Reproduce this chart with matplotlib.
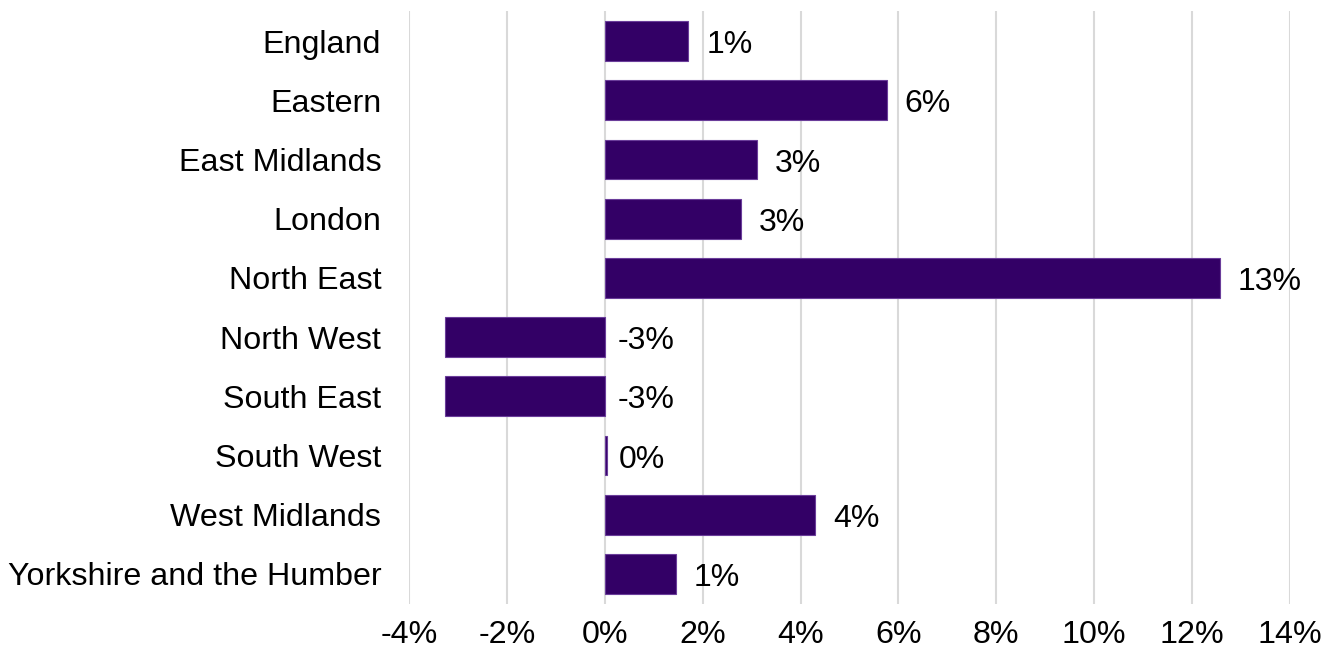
import matplotlib.pyplot as plt
from matplotlib.ticker import FuncFormatter

plt.rcParams['font.family'] = ['Liberation Sans', 'DejaVu Sans']

regions = ['England', 'Eastern', 'East Midlands', 'London', 'North East',
           'North West', 'South East', 'South West', 'West Midlands',
           'Yorkshire and the Humber']
change = [1.71, 5.76, 3.1, 2.78, 12.57, -3.27, -3.27, 0.04, 4.29, 1.45]
labels = ['1%', '6%', '3%', '3%', '13%', '-3%', '-3%', '0%', '4%', '1%']
ticks = [-4, -2, 0, 2, 4, 6, 8, 10, 12, 14]

fig = plt.figure(figsize=(13.38, 6.57), dpi=100)
ax = fig.add_axes([0.3057, 0.0813, 0.6584, 0.9013])

y = list(range(len(regions)))
ax.barh(y, change, height=0.67, color='#330066', edgecolor='#6a3d9a',
        linewidth=0.8, zorder=3)

for yi, v, lab in zip(y, change, labels):
    dx = 13 if v > 0.5 else 9
    ax.annotate(lab, (max(v, 0), yi), xytext=(dx, -3), textcoords='offset points',
                ha='left', va='center', fontsize=23, color='black')

ax.set_xlim(-4, 14)
ax.set_ylim(len(regions) - 0.5, -0.5)
ax.set_xticks(ticks)
ax.xaxis.set_major_formatter(FuncFormatter(lambda x, p: f'{x:.0f}%'))
ax.set_yticks(y)
ax.set_yticklabels(regions)
ax.tick_params(axis='both', length=0, labelsize=23.2)
ax.tick_params(axis='y', pad=20)
ax.tick_params(axis='x', pad=12)
ax.grid(axis='x', color='#d9d9d9', linewidth=1.5, zorder=0)
for s in ax.spines.values():
    s.set_visible(False)

fig.savefig('out.png', dpi=100)
